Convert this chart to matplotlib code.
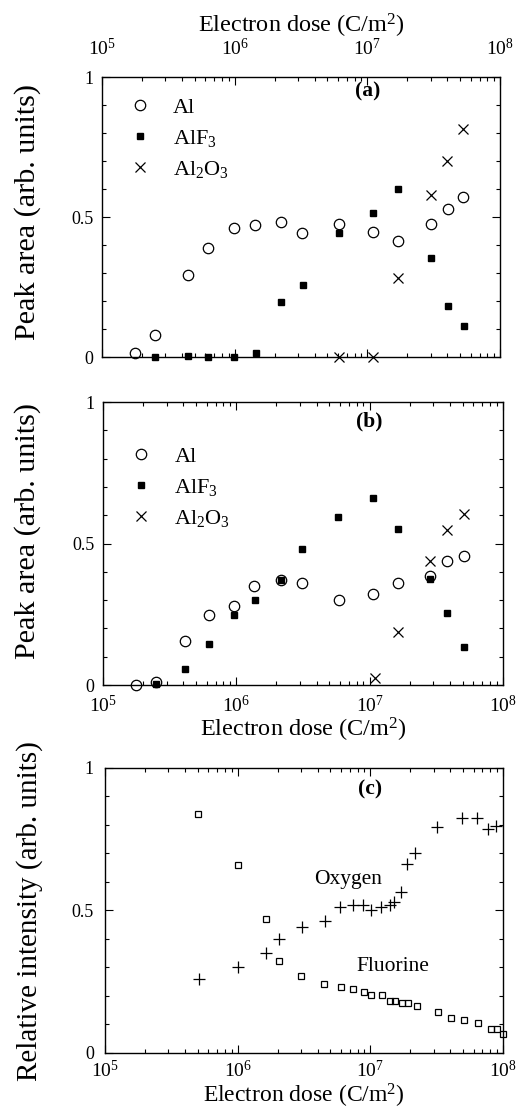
import matplotlib
matplotlib.use("Agg")
import matplotlib.pyplot as plt
from matplotlib.ticker import LogLocator, LogFormatterMathtext, MultipleLocator, FixedLocator, FixedFormatter, NullFormatter

plt.rcParams['font.family'] = ['Liberation Serif', 'DejaVu Serif']
plt.rcParams['mathtext.fontset'] = 'custom'
plt.rcParams['mathtext.rm'] = 'Liberation Serif'
plt.rcParams['mathtext.it'] = 'Liberation Serif:italic'
plt.rcParams['mathtext.bf'] = 'Liberation Serif:bold'

# ---- Panel (a) data ----
a_al_x = [1.78e5, 2.52e5, 4.42e5, 6.3e5, 9.8e5, 1.42e6, 2.23e6, 3.22e6, 6.08e6, 1.1e7, 1.69e7, 2.99e7, 4.01e7, 5.26e7]
a_al_y = [0.014, 0.08, 0.293, 0.39, 0.461, 0.471, 0.483, 0.443, 0.474, 0.445, 0.416, 0.476, 0.53, 0.572]
a_alf3_x = [2.52e5, 4.42e5, 6.3e5, 9.9e5, 1.44e6, 2.25e6, 3.26e6, 6.08e6, 1.1e7, 1.69e7, 3.0e7, 4.03e7, 5.3e7]
a_alf3_y = [0.0, 0.004, 0.0, 0.0, 0.014, 0.197, 0.259, 0.443, 0.515, 0.599, 0.355, 0.182, 0.11]
a_al2o3_x = [6.08e6, 1.1e7, 1.7e7, 2.99e7, 4.0e7, 5.2e7]
a_al2o3_y = [0.002, 0.002, 0.283, 0.578, 0.70, 0.816]

# ---- Panel (b) data ----
b_al_x = [1.78e5, 2.48e5, 4.1e5, 6.2e5, 9.6e5, 1.37e6, 2.15e6, 3.11e6, 5.86e6, 1.06e7, 1.64e7, 2.84e7, 3.78e7, 5.07e7]
b_al_y = [0.0, 0.012, 0.156, 0.247, 0.278, 0.349, 0.371, 0.361, 0.30, 0.321, 0.362, 0.387, 0.438, 0.456]
b_alf3_x = [2.48e5, 4.1e5, 6.2e5, 9.6e5, 1.39e6, 2.15e6, 3.11e6, 5.8e6, 1.06e7, 1.64e7, 2.84e7, 3.84e7, 5.1e7]
b_alf3_y = [0.005, 0.055, 0.144, 0.247, 0.30, 0.371, 0.48, 0.592, 0.662, 0.552, 0.374, 0.253, 0.135]
b_al2o3_x = [1.09e7, 1.64e7, 2.84e7, 3.78e7, 5.07e7]
b_al2o3_y = [0.024, 0.188, 0.439, 0.547, 0.604]

# ---- Panel (c) data ----
c_f_x = [4.99e5, 1.01e6, 1.62e6, 2.04e6, 3.02e6, 4.48e6, 5.98e6, 7.45e6, 8.96e6, 1.01e7, 1.22e7,
         1.41e7, 1.53e7, 1.72e7, 1.93e7, 2.26e7, 3.26e7, 4.03e7, 5.11e7, 6.52e7, 8.13e7, 9.06e7, 1.0e8]
c_f_y = [0.837, 0.659, 0.471, 0.322, 0.271, 0.242, 0.233, 0.223, 0.213, 0.203, 0.203,
         0.184, 0.184, 0.174, 0.174, 0.165, 0.145, 0.124, 0.115, 0.105, 0.085, 0.085, 0.066]
c_o_x = [5.14e5, 1.01e6, 1.63e6, 2.05e6, 3.04e6, 4.53e6, 5.9e6, 7.36e6, 8.85e6, 1.01e7, 1.2e7,
         1.41e7, 1.51e7, 1.69e7, 1.9e7, 2.17e7, 3.17e7, 4.91e7, 6.34e7, 7.76e7, 8.86e7]
c_o_y = [0.259, 0.30, 0.351, 0.401, 0.442, 0.463, 0.512, 0.521, 0.521, 0.503, 0.512,
         0.521, 0.529, 0.564, 0.663, 0.703, 0.793, 0.826, 0.826, 0.785, 0.797]

labels = ["Al", "AlF$_3$", "Al$_2$O$_3$"]
ytick_vals = [0, 0.5, 1]
ytick_labels = ["0", "0.5", "1"]

fig = plt.figure(figsize=(5.2, 11.09), dpi=100)
ax_a = fig.add_axes([0.196, 0.678, 0.766, 0.2525])
ax_b = fig.add_axes([0.198, 0.3823, 0.769, 0.2552])
ax_c = fig.add_axes([0.202, 0.0505, 0.7654, 0.2570])

def style(ax):
    ax.set_xscale('log')
    ax.set_xlim(1e5, 1e8)
    ax.set_ylim(0, 1)
    ax.xaxis.set_major_locator(LogLocator(base=10, numticks=10))
    ax.xaxis.set_minor_locator(LogLocator(base=10, subs=range(2, 10), numticks=100))
    ax.xaxis.set_major_formatter(LogFormatterMathtext())
    ax.xaxis.set_minor_formatter(NullFormatter())
    ax.yaxis.set_major_locator(FixedLocator(ytick_vals))
    ax.yaxis.set_major_formatter(FixedFormatter(ytick_labels))
    ax.yaxis.set_minor_locator(MultipleLocator(0.1))
    ax.tick_params(which='both', direction='in', top=True, right=True, width=0.8)
    ax.tick_params(which='major', length=6)
    ax.tick_params(which='minor', length=3)
    ax.tick_params(axis='x', labelsize=14, pad=7)
    ax.tick_params(axis='y', labelsize=13, pad=6)
    for s in ax.spines.values():
        s.set_linewidth(1.0)

for ax in (ax_a, ax_b, ax_c):
    style(ax)

def three(ax, alx, aly, fx, fy, ox, oy):
    h1, = ax.plot(alx, aly, 'o', mfc='none', mec='black', ms=7.5, mew=0.9, clip_on=False, label=labels[0])
    h2, = ax.plot(fx, fy, 's', mfc='black', mec='black', ms=4.8, clip_on=False, label=labels[1])
    h3, = ax.plot(ox, oy, 'x', color='black', ms=7, mew=0.9, clip_on=False, label=labels[2])
    return [h1, h2, h3]

ha = three(ax_a, a_al_x, a_al_y, a_alf3_x, a_alf3_y, a_al2o3_x, a_al2o3_y)
hb = three(ax_b, b_al_x, b_al_y, b_alf3_x, b_alf3_y, b_al2o3_x, b_al2o3_y)

leg_kw = dict(frameon=False, fontsize=16, handletextpad=0.75, labelspacing=0.45, borderaxespad=0.2, handlelength=1.5)
ax_a.legend(handles=ha, loc='upper left', bbox_to_anchor=(0.02, 0.975), **leg_kw)
ax_b.legend(handles=hb, loc='upper left', bbox_to_anchor=(0.02, 0.89), **leg_kw)

ax_c.plot(c_f_x, c_f_y, 's', mfc='none', mec='black', ms=5, mew=0.9, clip_on=False)
ax_c.plot(c_o_x, c_o_y, '+', color='black', ms=8, mew=0.9, clip_on=False)

ax_a.text(1e7, 0.95, "(a)", ha='center', va='center', fontsize=15.5, fontweight='bold')
ax_b.text(1e7, 0.93, "(b)", ha='center', va='center', fontsize=15.5, fontweight='bold')
ax_c.text(1e7, 0.925, "(c)", ha='center', va='center', fontsize=15.5, fontweight='bold')
ax_c.text(6.8e6, 0.61, "Oxygen", ha='center', va='center', fontsize=15.5)
ax_c.text(1.49e7, 0.302, "Fluorine", ha='center', va='center', fontsize=15.5)

xlabel = "Electron dose (C/m$^2$)"
ax_a.xaxis.set_label_position('top')
ax_a.xaxis.tick_top()
ax_a.tick_params(which='both', bottom=True, top=True)
ax_a.tick_params(axis='x', pad=13)
ax_a.set_xlabel(xlabel, fontsize=17.5, labelpad=4)
ax_b.set_xlabel(xlabel, fontsize=17.5, labelpad=0)
ax_c.tick_params(axis='x', pad=5)
ax_c.tick_params(axis='y', pad=8)
ax_c.set_xlabel(xlabel, fontsize=17, labelpad=0.5)

ax_a.set_ylabel("Peak area (arb. units)", fontsize=21.7)
ax_b.set_ylabel("Peak area (arb. units)", fontsize=21.7)
ax_c.set_ylabel("Relative intensity (arb. units)", fontsize=21)
ax_a.yaxis.set_label_coords(-0.153, 0.518)
ax_b.yaxis.set_label_coords(-0.155, 0.544)
ax_c.yaxis.set_label_coords(-0.156, 0.498)

fig.savefig("out.png", dpi=100)
